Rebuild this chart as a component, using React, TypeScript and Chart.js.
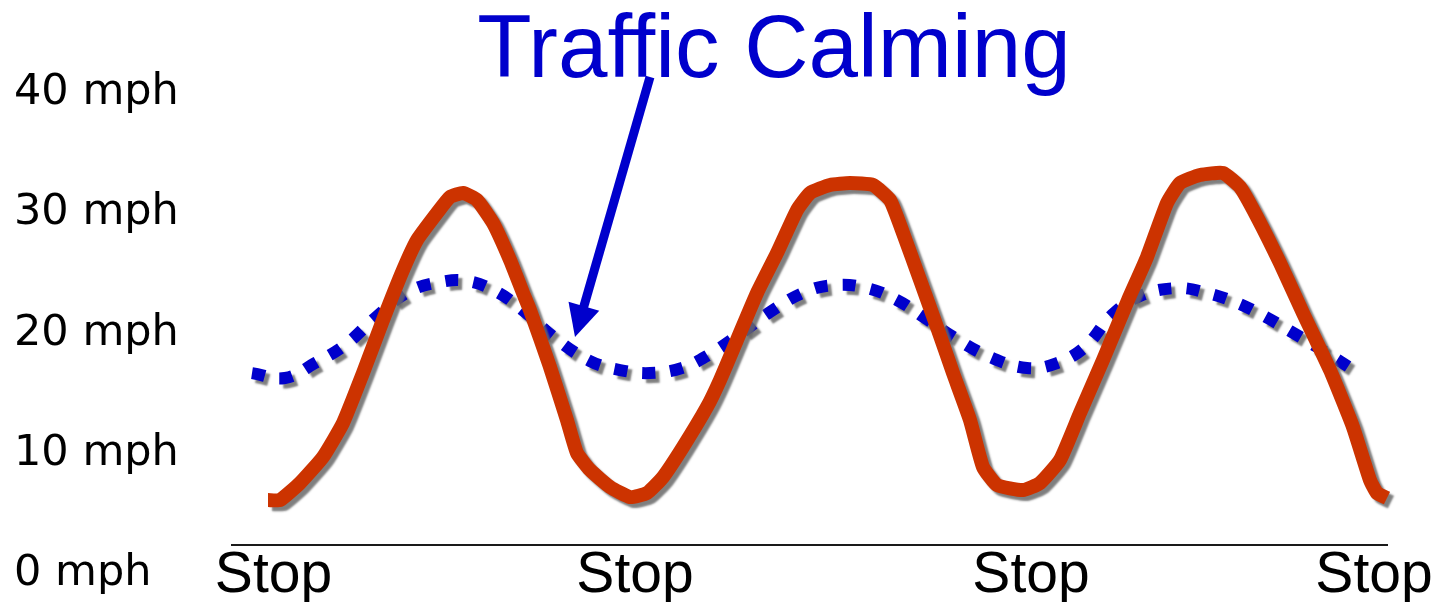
import React, { useEffect, useRef } from "react";
import { Chart, registerables } from "chart.js";

Chart.register(...registerables);

// ---- data ----
const titleText = "Traffic Calming";
const yTickValues = [0, 10, 20, 30, 40];
const yTickUnit = "mph";
const stopLabel = "Stop";
const stopPositions = [4.15, 40.3, 79.9, 114.2];
const distanceMin = 0;
const distanceMax = 115.5;
const speedMin = 0;
const speedMax = 40;
const baselineSpeed = 2.45;

// conventional street (red)
const currentX = [
  3.6, 4.8, 6.8, 9.1, 11.1, 13.1, 15.1, 17.1, 18.5, 20.5, 21.8, 23.1, 24.5, 26.1, 27.8, 29.1, 29.8,
  31.8, 33.5, 34.5, 35.8, 37.8, 39.8, 41.5, 43.1, 45.1, 47.5, 48.8, 50.5, 52.5, 54.5, 56.5, 57.8,
  59.8, 61.8, 64.1, 65.8, 67.1, 68.8, 70.5, 72.1, 73.8, 75.1, 76.5, 79.1, 80.8, 82.8, 84.8, 87.1,
  89.6, 91.5, 93.5, 94.8, 96.8, 99.1, 100.8, 102.5, 104.8, 107.1, 109.8, 112.1, 113.8, 114.5, 115.5,
];
const currentY = [
  6.15, 6.15, 7.57, 9.73, 12.56, 16.71, 21.12, 25.28, 27.77, 30.02, 31.35, 31.68, 31.1, 29.19, 26.11, 23.37, 21.95,
  17.21, 12.8, 10.06, 8.65, 7.23, 6.4, 6.73, 8.06, 10.56, 13.89, 16.13, 19.46, 23.37, 26.69, 30.27, 31.68,
  32.35, 32.51, 32.35, 31.1, 28.36, 24.45, 20.54, 16.71, 12.8, 8.9, 7.4, 6.98, 7.57, 9.48, 13.39, 17.79,
  22.78, 26.36, 30.85, 32.51, 33.18, 33.35, 32.18, 29.69, 25.86, 21.7, 16.96, 12.22, 7.81, 6.73, 6.32,
];

// traffic calming (blue dotted)
const calmedX = [
  2.0, 5.3, 8.3, 11.3, 14.3, 17.6, 20.8, 23.6, 26.5, 29.3, 32.3, 35.8, 38.8, 41.8, 45.0, 47.8, 50.8,
  53.8, 57.3, 60.3, 63.5, 66.5, 69.3, 72.3, 75.8, 79.5, 82.5, 85.3, 88.0, 90.8, 94.5, 97.5, 100.3,
  103.0, 105.8, 108.5, 112.0,
];
const calmedY = [
  16.71, 16.3, 17.54, 19.04, 21.29, 23.45, 24.28, 24.36, 23.45, 21.79, 19.62, 17.71, 16.96, 16.71, 17.13, 18.29, 19.96,
  21.79, 23.45, 24.03, 23.78, 22.78, 21.29, 19.62, 18.04, 17.13, 17.54, 18.88, 21.54, 23.12, 23.78, 23.37, 22.62,
  21.54, 20.21, 18.88, 17.05,
];

// annotation arrow (in data units)
const arrowFrom = { x: 41.8, y: 41.33 };
const arrowTo = { x: 34.3, y: 19.71 };

const RED = "#CC3300";
const BLUE = "#0000CC";

const shadowPlugin = {
  id: "lineShadow",
  beforeDatasetDraw(chart: any) {
    const ctx = chart.ctx;
    ctx.save();
    ctx.shadowColor = "rgba(105,105,105,0.85)";
    ctx.shadowOffsetX = 4;
    ctx.shadowOffsetY = 4;
    ctx.shadowBlur = 2;
  },
  afterDatasetDraw(chart: any) {
    chart.ctx.restore();
  },
};

const annotationPlugin = {
  id: "titleArrow",
  afterDraw(chart: any) {
    const ctx = chart.ctx;
    const xs = chart.scales.x;
    const ys = chart.scales.y;
    ctx.save();
    // title
    ctx.font = '89px "Liberation Sans", Arial, sans-serif';
    ctx.fillStyle = BLUE;
    ctx.textAlign = "center";
    ctx.textBaseline = "alphabetic";
    ctx.fillText(titleText, 766, 69);
    // arrow
    const x1 = xs.getPixelForValue(arrowFrom.x);
    const y1 = ys.getPixelForValue(arrowFrom.y);
    const x2 = xs.getPixelForValue(arrowTo.x);
    const y2 = ys.getPixelForValue(arrowTo.y);
    const ang = Math.atan2(y2 - y1, x2 - x1);
    const c = Math.cos(ang);
    const s = Math.sin(ang);
    const headLen = 32;
    const headHalf = 16;
    const bx = x2 - headLen * c;
    const by = y2 - headLen * s;
    ctx.strokeStyle = BLUE;
    ctx.fillStyle = BLUE;
    ctx.lineWidth = 9;
    ctx.lineCap = "butt";
    ctx.beginPath();
    ctx.moveTo(x1, y1);
    ctx.lineTo(bx + 2 * c, by + 2 * s);
    ctx.stroke();
    ctx.beginPath();
    ctx.moveTo(x2, y2);
    ctx.lineTo(bx - headHalf * s, by + headHalf * c);
    ctx.lineTo(bx + headHalf * s, by - headHalf * c);
    ctx.closePath();
    ctx.fill();
    ctx.restore();
  },
};

export default function App() {
  const canvasRef = useRef<HTMLCanvasElement | null>(null);

  useEffect(() => {
    if (!canvasRef.current) return;
    const chart = new Chart(canvasRef.current, {
      type: "line",
      data: {
        datasets: [
          {
            label: "Conventional",
            data: currentX.map((x, i) => ({ x, y: currentY[i] })),
            borderColor: RED,
            borderWidth: 14,
            borderJoinStyle: "round",
            borderCapStyle: "butt",
            pointRadius: 0,
            tension: 0.15,
            fill: false,
            clip: false as any,
          },
          {
            label: "Traffic Calming",
            data: calmedX.map((x, i) => ({ x, y: calmedY[i] })),
            borderColor: BLUE,
            borderWidth: 12,
            borderDash: [13, 15],
            borderCapStyle: "butt",
            pointRadius: 0,
            tension: 0.4,
            fill: false,
            clip: false as any,
          },
        ],
      },
      options: {
        animation: false,
        responsive: true,
        maintainAspectRatio: false,
        layout: { padding: { left: 6, right: 46, top: 85, bottom: 28 } },
        plugins: {
          legend: { display: false },
          tooltip: { enabled: false },
          title: { display: false },
        },
        scales: {
          x: {
            type: "linear",
            min: distanceMin,
            max: distanceMax,
            position: { y: baselineSpeed } as any,
            afterBuildTicks: (s: any) => {
              s.ticks = stopPositions.map((v) => ({ value: v }));
            },
            ticks: {
              callback: () => stopLabel,
              autoSkip: false,
              maxRotation: 0,
              minRotation: 0,
              color: "#000",
              padding: -1,
              font: { family: '"Liberation Sans", Arial, sans-serif', size: 57, lineHeight: 1.16 },
            },
            grid: { display: false, drawTicks: false },
            border: { display: true, color: "#1a1a1a", width: 2 },
          },
          y: {
            type: "linear",
            position: "left",
            min: speedMin,
            max: speedMax,
            afterBuildTicks: (s: any) => {
              s.ticks = yTickValues.map((v) => ({ value: v }));
            },
            afterFit: (s: any) => {
              s.width = 218;
            },
            ticks: {
              callback: (v: any) => `${v} ${yTickUnit}`,
              color: "#000",
              crossAlign: "far",
              padding: 0,
              font: { family: '"DejaVu Sans", sans-serif', size: 43 },
            },
            grid: { display: false, drawTicks: false },
            border: { display: false },
          },
        },
      },
      plugins: [shadowPlugin, annotationPlugin],
    });
    return () => chart.destroy();
  }, []);

  return (
    <div style={{ position: "relative", width: "100%", height: 594 }}>
      <canvas ref={canvasRef} />
    </div>
  );
}
